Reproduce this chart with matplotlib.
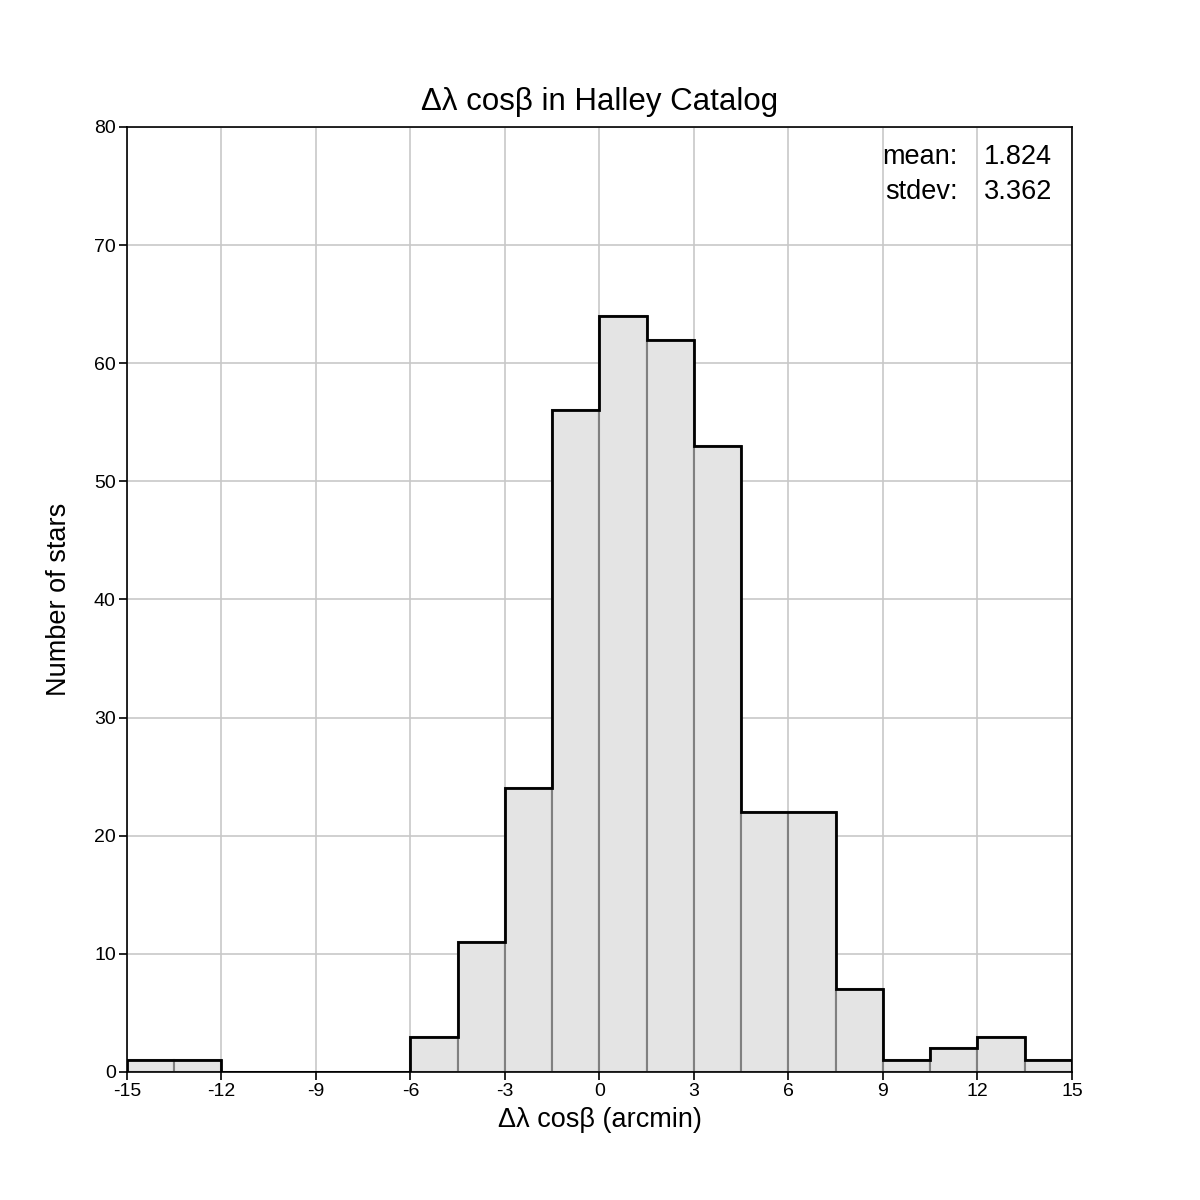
import numpy as np
import matplotlib
matplotlib.use("Agg")
import matplotlib.pyplot as plt

plt.rcParams['font.family'] = ['Liberation Sans', 'DejaVu Sans']

# histogram of delta-lambda cos(beta), bins of 1.5 arcmin
bin_edges = [-15, -13.5, -12, -10.5, -9, -7.5, -6, -4.5, -3, -1.5, 0,
             1.5, 3, 4.5, 6, 7.5, 9, 10.5, 12, 13.5, 15]
counts = [1, 1, 0, 0, 0, 0, 3, 11, 24, 56, 64, 62, 53, 22, 22, 7, 1, 2, 3, 1]
x_ticks = [-15, -12, -9, -6, -3, 0, 3, 6, 9, 12, 15]
y_ticks = [0, 10, 20, 30, 40, 50, 60, 70, 80]
stat_names = ["mean:", "stdev:"]
stat_values = ["1.824", "3.362"]

fig = plt.figure(figsize=(12, 12), dpi=100)
ax = fig.add_axes([0.1058, 0.1067, 0.7875, 0.7875])

edges = np.array(bin_edges)
widths = np.diff(edges)

# filled bars with gray inner edges
ax.bar(edges[:-1], counts, width=widths, align='edge', color='#e4e4e4',
       edgecolor='#808080', linewidth=1.5, zorder=2)
# black outline
ax.stairs(counts, edges, color='black', linewidth=2, zorder=3)

ax.set_xlim(-15, 15)
ax.set_ylim(0, 80)
ax.set_xticks(x_ticks)
ax.set_yticks(y_ticks)
ax.set_xticklabels([str(t) for t in x_ticks])
ax.grid(True, color='#c8c8c8', linewidth=1.2, zorder=0)
ax.set_axisbelow(True)
for s in ax.spines.values():
    s.set_linewidth(1.2)
ax.tick_params(direction='out', length=6, width=1.2, labelsize=14, pad=2)

ax.set_title("Δλ cosβ in Halley Catalog", fontsize=22.5, pad=12)
ax.set_xlabel("Δλ cosβ (arcmin)", fontsize=19.5, labelpad=5)
ax.set_ylabel("Number of stars", fontsize=19.5, labelpad=16)

for i, (n, v) in enumerate(zip(stat_names, stat_values)):
    y = 0.968 - i * 0.037
    ax.text(0.8794, y, n, transform=ax.transAxes, ha='right', va='center',
            fontsize=19.5, zorder=5)
    ax.text(0.907, y, v, transform=ax.transAxes, ha='left', va='center',
            fontsize=19.5, zorder=5)

fig.savefig("out.png", dpi=100)
